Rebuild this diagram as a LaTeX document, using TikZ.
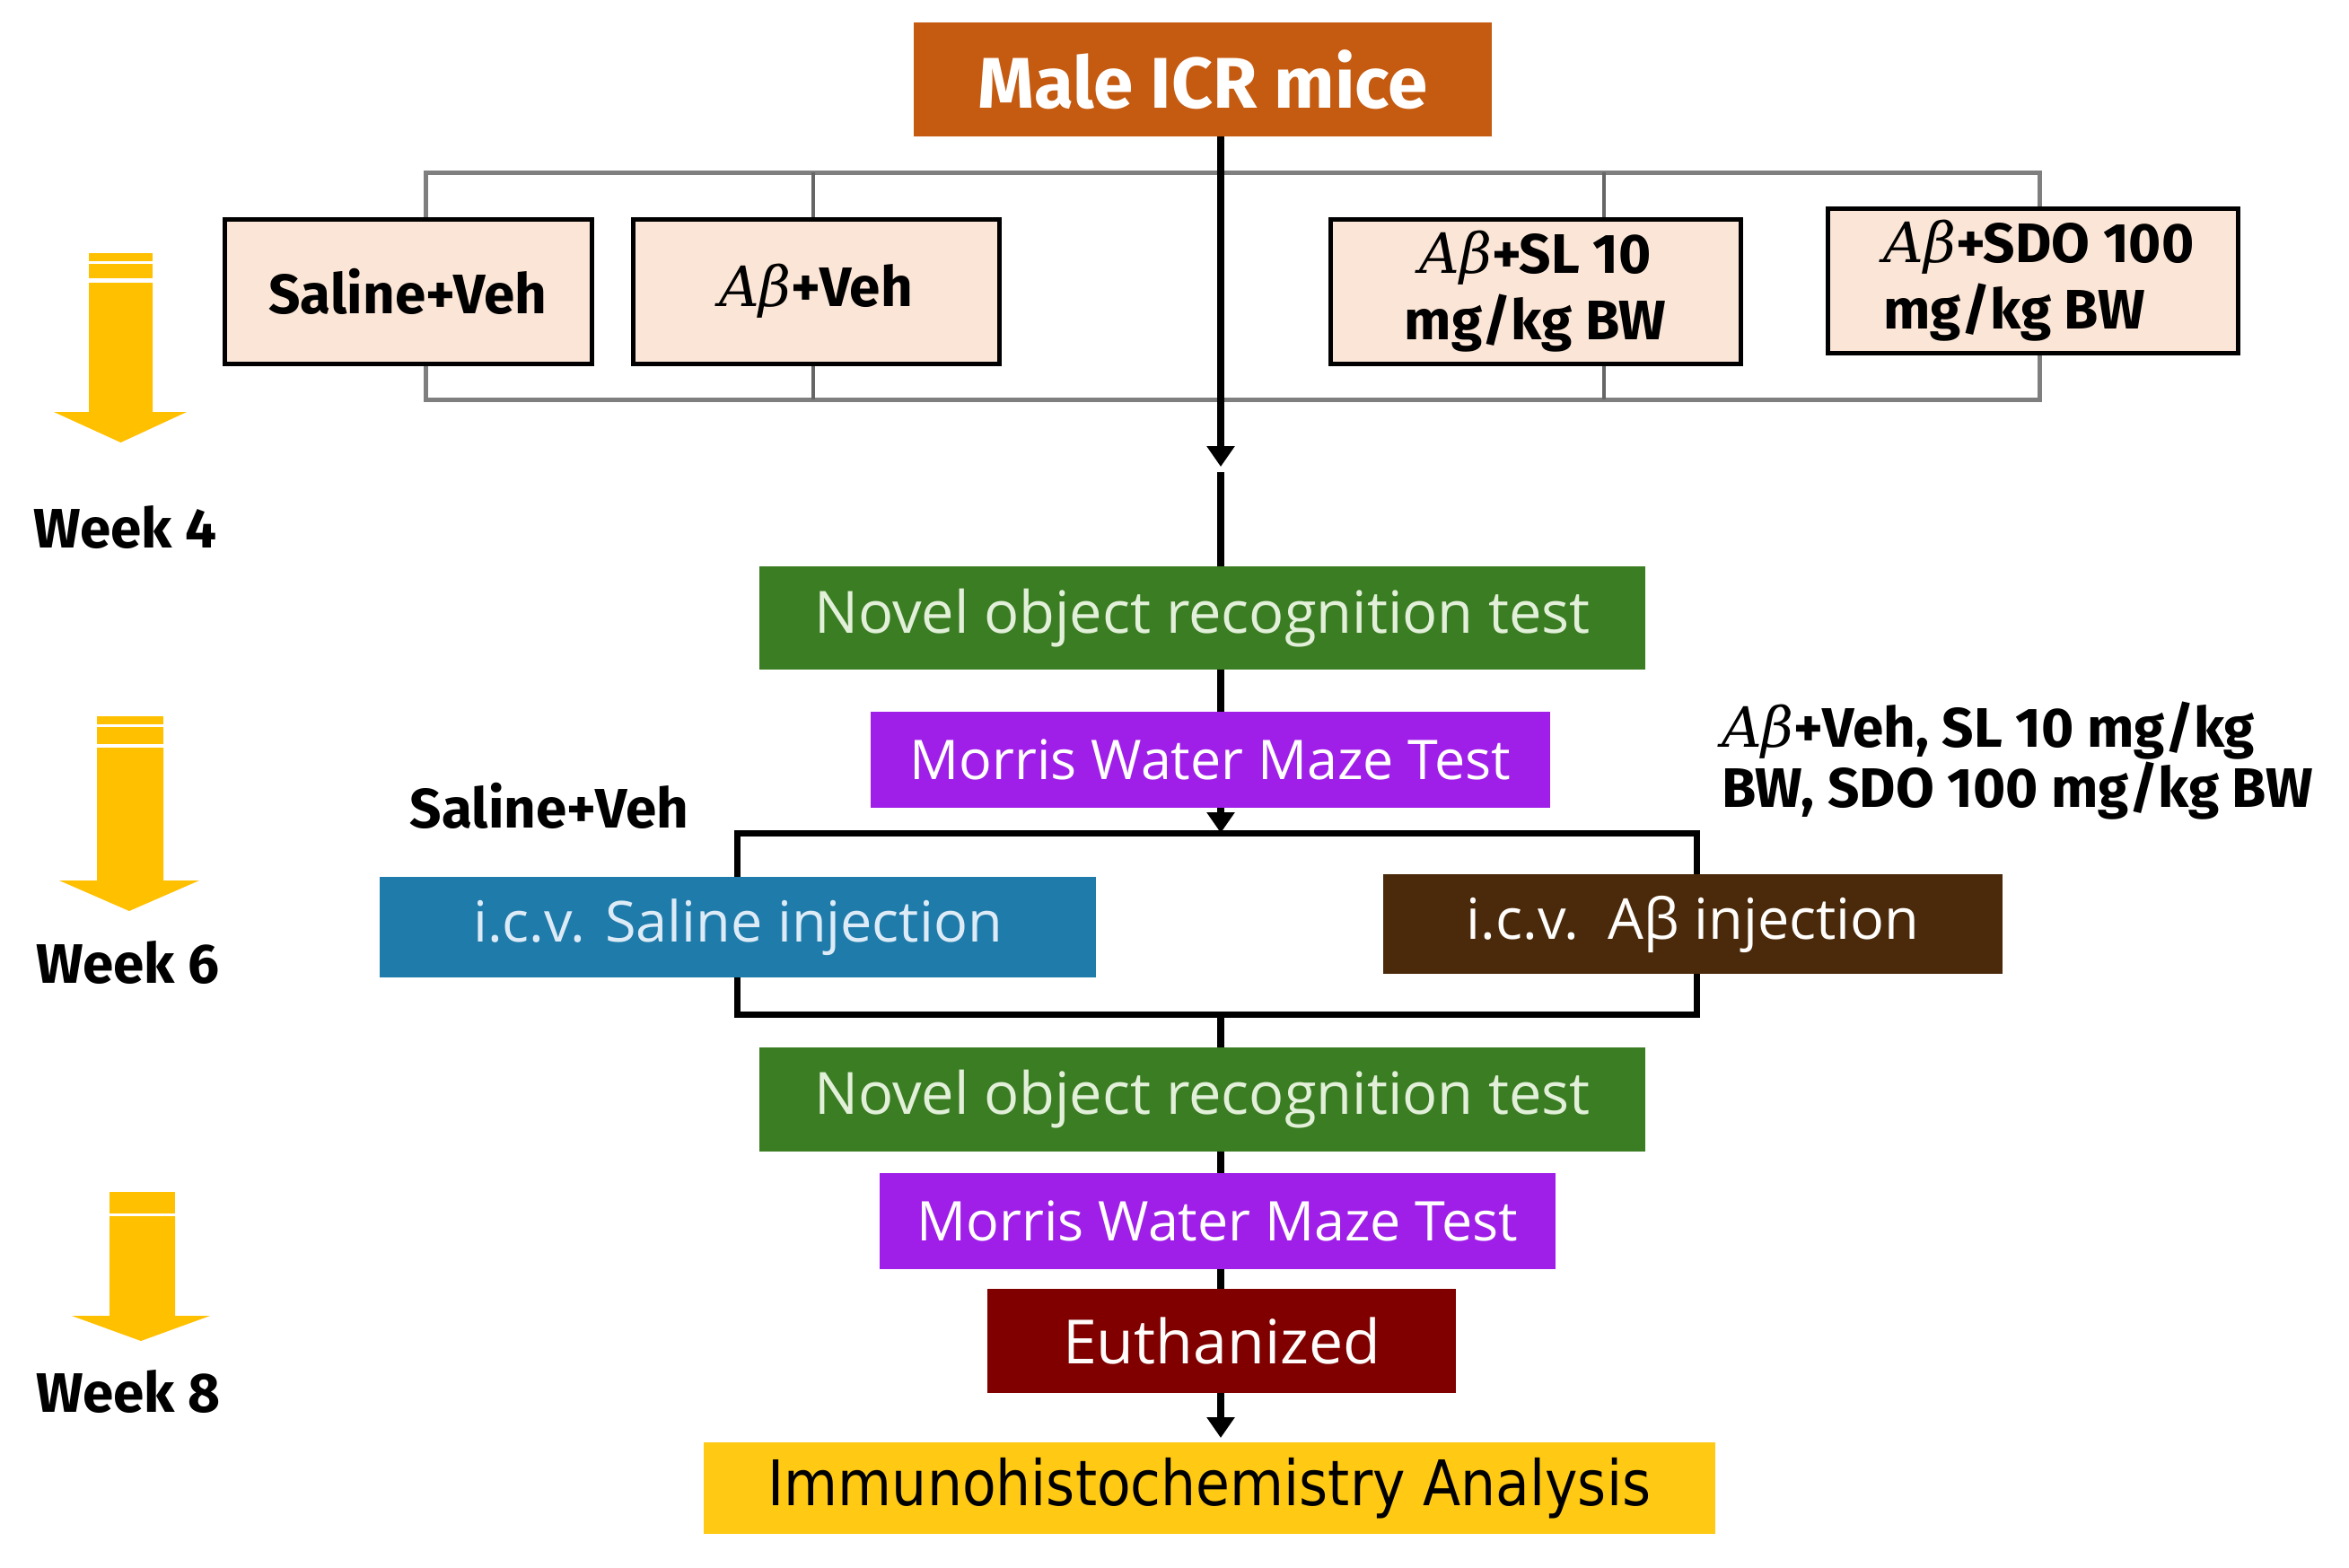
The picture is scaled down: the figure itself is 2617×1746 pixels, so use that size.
\documentclass[tikz,border=0pt]{standalone}
\usepackage{fontspec}
\setmainfont{Fira Sans}
\newfontfamily\osans{Open Sans}
\newfontfamily\abfont{DejaVu Serif}
\newfontfamily\ihcfont[FakeStretch=0.88]{DejaVu Sans}
\newcommand\ABeta{{\abfont\itshape\mdseries Aβ}}
\usetikzlibrary{arrows.meta}
\definecolor{orangebox}{HTML}{C55A11}
\definecolor{peach}{HTML}{FBE5D6}
\definecolor{greenbox}{HTML}{3B7D23}
\definecolor{purplebox}{HTML}{A01FE8}
\definecolor{bluebox}{HTML}{1E7BAA}
\definecolor{brownbox}{HTML}{4B2A0B}
\definecolor{redbox}{HTML}{800000}
\definecolor{ihcyellow}{HTML}{FFC914}
\definecolor{arrowyellow}{HTML}{FFC000}
\definecolor{bracketgray}{HTML}{7F7F7F}
\definecolor{greentext}{HTML}{E2F0D9}
\definecolor{bluetext}{HTML}{DDEBF7}
\begin{document}
\begin{tikzpicture}[x=1pt,y=-1pt,
  grp/.style={draw=black, line width=5pt, fill=peach, inner sep=0pt,
    font=\fontsize{62}{74}\selectfont\bfseries, align=center},
  stagebox/.style={inner sep=0pt, font=\osans\fontsize{65}{78}\selectfont},
  lbl/.style={inner sep=0pt, font=\fontsize{62}{67}\selectfont\bfseries},
  spine/.style={line width=8pt, draw=black},
  tipdown/.style={-{Triangle[width=30pt,length=23pt]}},
  graybr/.style={draw=bracketgray, line width=5pt},
  graytick/.style={draw=bracketgray!80!black, line width=3.5pt},
  yel/.style={fill=arrowyellow}
]
\useasboundingbox[fill=white] (0,0) rectangle (2617,1746);

% spine x position
\coordinate (sp) at (1360,0);

% top node
\node[fill=orangebox, inner sep=0pt, minimum width=644pt, minimum height=127pt,
  text=white, font=\fontsize{80}{90}\selectfont\bfseries] (male) at (1340,88.5) {Male ICR mice};

% gray bracket
\coordinate (gbTL) at (474,192);
\coordinate (gbBR) at (2272,445);
\draw[graybr] (gbTL) rectangle (gbBR);
\draw[graytick] (906,192) -- (906,445);
\draw[graytick] (1787,192) -- (1787,445);

% spine part 1
\coordinate (gapA) at (1360,520);
\coordinate (gapB) at (1360,526);
\draw[spine, tipdown] (male.south -| sp) -- (gapA);

% group boxes
\node[grp, minimum width=409pt, minimum height=161pt] (g1) at (454.5,324.5) {Saline+Veh};
\node[grp, minimum width=408pt, minimum height=161pt] (g2) at (909,324.5) {\ABeta+Veh};
\node[grp, minimum width=457pt, minimum height=161pt] (g3) at (1710.5,324.5) {\ABeta+SL 10\\mg/kg BW};
\node[grp, minimum width=457pt, minimum height=161pt, align=left] (g4) at (2264.5,312.5) {\hspace*{14pt}\ABeta+SDO 100\\\hspace*{14pt}mg/kg BW};

% week labels and yellow arrows
\node[lbl, anchor=west] (w4) at (37,587) {Week 4};
\node[lbl, anchor=west] (w6) at (40,1072) {Week 6};
\node[lbl, anchor=west] (w8) at (40,1550) {Week 8};

\fill[yel] (99,282) rectangle (170,291);
\fill[yel] (99,294) rectangle (170,310);
\fill[yel] (99,315) -- (170,315) -- (170,459) -- (208,459) -- (134.5,493) -- (60,459) -- (99,459) -- cycle;

\fill[yel] (108,798) rectangle (182,807);
\fill[yel] (108,810) rectangle (182,829);
\fill[yel] (108,833) -- (182,833) -- (182,981) -- (222,981) -- (144,1015) -- (66,981) -- (108,981) -- cycle;

\fill[yel] (122,1328) rectangle (195,1352);
\fill[yel] (122,1355) -- (195,1355) -- (195,1466) -- (234,1466) -- (157,1494) -- (80,1466) -- (122,1466) -- cycle;

% stage boxes
\node[stagebox, fill=greenbox, text=greentext, minimum width=987pt, minimum height=115pt] (nor1) at (1339.5,688.5) {Novel object recognition test};
\node[stagebox, fill=purplebox, text=white, minimum width=757pt, minimum height=107pt, font=\osans\fontsize{61}{70}\selectfont] (mwm1) at (1348.5,846.5) {Morris Water Maze Test};

\draw[spine] (gapB) -- (nor1.north -| sp);
\draw[spine] (nor1.south -| sp) -- (mwm1.north -| sp);

% black bracket
\coordinate (bbTL) at (821,928);
\coordinate (bbBR) at (1890,1130);
\draw[line width=7pt, draw=black] (bbTL) rectangle (bbBR);
\draw[spine, tipdown] (mwm1.south -| sp) -- (bbTL -| sp);

% injection boxes
\node[stagebox, fill=bluebox, text=bluetext, minimum width=798pt, minimum height=112pt, font=\osans\fontsize{63}{72}\selectfont] (sal) at (822,1033) {i.c.v. Saline injection};
\node[stagebox, fill=brownbox, text=white!95!peach, minimum width=690pt, minimum height=111pt, font=\osans\fontsize{63}{72}\selectfont] (abi) at (1886,1029.5) {i.c.v.\ \ Aβ injection};

% side labels
\node[lbl] (lsal) at (612,898) {Saline+Veh};
\node[lbl, anchor=west, align=left] (lab) at (1918,848) {\ABeta+Veh, SL 10 mg/kg\\BW, SDO 100 mg/kg BW};

% lower stages
\node[stagebox, fill=greenbox, text=greentext, minimum width=987pt, minimum height=116pt] (nor2) at (1339.5,1225) {Novel object recognition test};
\node[stagebox, fill=purplebox, text=white, minimum width=753pt, minimum height=107pt, font=\osans\fontsize{61}{70}\selectfont] (mwm2) at (1356.5,1360.5) {Morris Water Maze Test};
\node[stagebox, fill=redbox, text=white!92!peach, minimum width=522pt, minimum height=116pt, font=\osans\fontsize{68}{78}\selectfont] (euth) at (1361,1494) {Euthanized};
\node[inner sep=0pt, fill=ihcyellow, text=black, minimum width=1127pt, minimum height=102pt, font=\ihcfont\fontsize{70}{80}\selectfont] (ihc) at (1347.5,1658) {Immunohistochemistry Analysis};

\coordinate (ihctip) at (1360,1602);
\draw[spine] (bbBR -| sp) -- (nor2.north -| sp);
\draw[spine] (nor2.south -| sp) -- (mwm2.north -| sp);
\draw[spine] (mwm2.south -| sp) -- (euth.north -| sp);
\draw[spine, tipdown] (euth.south -| sp) -- (ihctip);
\end{tikzpicture}
\end{document}
